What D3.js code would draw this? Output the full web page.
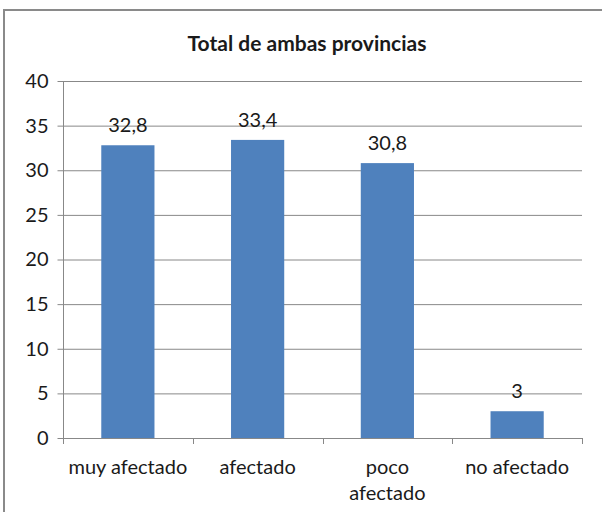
<!DOCTYPE html>
<html>
<head>
<meta charset="utf-8">
<script src="https://cdn.jsdelivr.net/npm/d3@7"></script>
<style>
  body { margin: 0; background: white; }
  svg { display: block; }
</style>
</head>
<body>
<div id="chart"></div>
<script>
var categories = [['muy afectado'], ['afectado'], ['poco', 'afectado'], ['no afectado']];
var values = [32.8, 33.4, 30.8, 3];
var value_labels = ['32,8', '33,4', '30,8', '3'];
var y_ticks = [0, 5, 10, 15, 20, 25, 30, 35, 40];

var width = 602, height = 512;
var font = 'Lato, "Open Sans", sans-serif';
var bar_color = '#4f81bd';
var grid_color = '#888';
var text_color = '#1a1a1a';
var fs = '20px';

var svg = d3.select('#chart').append('svg')
  .attr('width', width)
  .attr('height', height);

// outer chart frame (cut off on the right and bottom)
svg.append('rect')
  .attr('x', 4)
  .attr('y', 10)
  .attr('width', 640)
  .attr('height', 560)
  .style('fill', 'white')
  .style('stroke', '#8a8a8a')
  .style('stroke-width', 2);

svg.append('text')
  .text('Total de ambas provincias')
  .attr('x', 307)
  .attr('y', 51)
  .style('font-family', font)
  .style('font-weight', 'bold')
  .style('font-size', '21px')
  .style('text-anchor', 'middle')
  .style('fill', text_color);

var plot = {left: 63, right: 582, top: 81, bottom: 438};

var x = d3.scaleBand()
  .domain(d3.range(categories.length))
  .range([plot.left, plot.right])
  .paddingInner(0.59)
  .paddingOuter(0.295);

var y = d3.scaleLinear()
  .domain([0, 40])
  .range([plot.bottom, plot.top]);

// gridlines
svg.append('g')
  .selectAll('line')
  .data(y_ticks.filter(function(d){ return d > 0; }))
  .enter()
  .append('line')
  .attr('x1', plot.left)
  .attr('x2', plot.right)
  .attr('y1', function(d){ return y(d) + 0.5; })
  .attr('y2', function(d){ return y(d) + 0.5; })
  .style('stroke', grid_color)
  .style('stroke-width', 1);

// y axis
var y_axis = svg.append('g')
  .attr('transform', 'translate(' + (plot.left + 0.5) + ',0)')
  .call(d3.axisLeft(y).tickValues(y_ticks).tickSize(6).tickPadding(9));
y_axis.select('.domain').style('stroke', grid_color).attr('d', 'M0,' + plot.top + 'V' + (plot.bottom + 0.5));
y_axis.selectAll('.tick line').style('stroke', grid_color);
y_axis.selectAll('.tick text')
  .style('font-family', font)
  .style('font-size', fs)
  .style('fill', text_color);

// bars
svg.append('g')
  .selectAll('rect')
  .data(values)
  .enter()
  .append('rect')
  .attr('x', function(d, i){ return x(i); })
  .attr('width', x.bandwidth())
  .attr('y', function(d){ return y(d); })
  .attr('height', function(d){ return y(0) - y(d); })
  .style('fill', bar_color);

// value labels
svg.append('g')
  .selectAll('text')
  .data(values)
  .enter()
  .append('text')
  .text(function(d, i){ return value_labels[i]; })
  .attr('x', function(d, i){ return x(i) + x.bandwidth() / 2; })
  .attr('y', function(d){ return y(d) - 13; })
  .style('font-family', font)
  .style('font-size', fs)
  .style('text-anchor', 'middle')
  .style('fill', text_color);

// x axis
svg.append('line')
  .attr('x1', plot.left)
  .attr('x2', plot.right)
  .attr('y1', plot.bottom + 0.5)
  .attr('y2', plot.bottom + 0.5)
  .style('stroke', grid_color);

var step = x.step();
svg.append('g')
  .selectAll('line')
  .data(d3.range(categories.length + 1))
  .enter()
  .append('line')
  .attr('x1', function(i){ return Math.round(plot.left + i * step) + 0.5; })
  .attr('x2', function(i){ return Math.round(plot.left + i * step) + 0.5; })
  .attr('y1', plot.bottom)
  .attr('y2', plot.bottom + 6)
  .style('stroke', grid_color);

var cat_labels = svg.append('g')
  .selectAll('text')
  .data(categories)
  .enter()
  .append('text')
  .attr('x', function(d, i){ return x(i) + x.bandwidth() / 2; })
  .attr('y', 474)
  .style('font-family', font)
  .style('font-size', fs)
  .style('text-anchor', 'middle')
  .style('fill', text_color);

cat_labels.selectAll('tspan')
  .data(function(d){ return d; })
  .enter()
  .append('tspan')
  .attr('x', function(){ return d3.select(this.parentNode).attr('x'); })
  .attr('dy', function(d, i){ return i === 0 ? 0 : 26; })
  .text(function(d){ return d; });
</script>
</body>
</html>
